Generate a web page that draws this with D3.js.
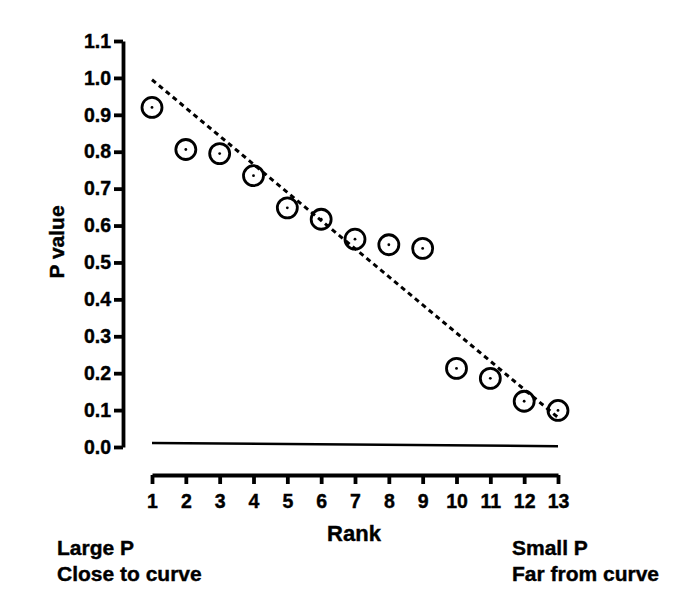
<!DOCTYPE html>
<html>
<head>
<meta charset="utf-8">
<script src="https://cdn.jsdelivr.net/npm/d3@7"></script>
<style>
  body { margin: 0; background: #fff; }
  text { font-family: "Liberation Sans", Arial, sans-serif; font-weight: bold; fill: #000; stroke: #000; stroke-width: 0.4px; }
</style>
</head>
<body>
<div id="chart"></div>
<script>
// ranks and observed P values
const ranks = [1, 2, 3, 4, 5, 6, 7, 8, 9, 10, 11, 12, 13];
const pValues = [0.92, 0.806, 0.795, 0.735, 0.648, 0.617, 0.563, 0.548, 0.538, 0.213, 0.186, 0.124, 0.099];
// dashed reference line and solid baseline (endpoints)
const dashedLine = [[1, 0.995], [13, 0.08]];
const baseLine = [[1, 0.011], [13, 0.002]];
const yTicks = [0, 0.1, 0.2, 0.3, 0.4, 0.5, 0.6, 0.7, 0.8, 0.9, 1.0, 1.1];

const width = 685, height = 610;
const svg = d3.select("#chart").append("svg")
    .attr("width", width)
    .attr("height", height);

const x = d3.scaleLinear().domain([1, 13]).range([152, 558]);
const y = d3.scaleLinear().domain([0, 1.1]).range([447, 41]);

// y axis
const yAxis = svg.append("g")
    .attr("transform", "translate(123,0)")
    .call(d3.axisLeft(y).tickValues(yTicks).tickFormat(d3.format(".1f")).tickSize(9).tickSizeOuter(0).tickPadding(3));
yAxis.select(".domain").attr("stroke-width", 3.8).attr("stroke", "#000");
yAxis.selectAll(".tick line").attr("stroke-width", 3.8).attr("stroke", "#000");
yAxis.selectAll(".tick text").style("font-size", "19.5px").attr("fill", "#000");

// x axis
const xAxis = svg.append("g")
    .attr("transform", "translate(0,475)")
    .call(d3.axisBottom(x).tickValues(ranks).tickFormat(d3.format("d")).tickSize(9).tickSizeOuter(0).tickPadding(10));
xAxis.select(".domain").attr("stroke-width", 3.8).attr("stroke", "#000");
xAxis.selectAll(".tick line").attr("stroke-width", 3.8).attr("stroke", "#000");
xAxis.selectAll(".tick text").style("font-size", "19.5px").attr("fill", "#000");

const line = d3.line().x(d => x(d[0])).y(d => y(d[1]));

svg.append("path")
    .attr("d", line(baseLine))
    .attr("fill", "none")
    .attr("stroke", "#000")
    .attr("stroke-width", 2.5);

svg.append("path")
    .attr("d", line(dashedLine))
    .attr("fill", "none")
    .attr("stroke", "#000")
    .attr("stroke-width", 3)
    .attr("stroke-dasharray", "5,4");

const pts = svg.selectAll(".pt")
    .data(ranks.map((r, i) => [r, pValues[i]]))
    .join("g")
    .attr("class", "pt")
    .attr("transform", d => `translate(${x(d[0])},${y(d[1])})`);
pts.append("circle")
    .attr("r", 10)
    .attr("fill", "none")
    .attr("stroke", "#000")
    .attr("stroke-width", 2.8);
pts.append("circle")
    .attr("r", 1.4)
    .attr("fill", "#000");

// labels
svg.append("text")
    .attr("transform", "translate(64,242) rotate(-90)")
    .attr("text-anchor", "middle")
    .style("font-size", "21px")
    .text("P value");

svg.append("text")
    .attr("x", 354).attr("y", 541)
    .attr("text-anchor", "middle")
    .style("font-size", "22px")
    .text("Rank");

const notes = [
  { x: 57, lines: ["Large P", "Close to curve"] },
  { x: 512, lines: ["Small P", "Far from curve"] }
];
notes.forEach(n => {
  n.lines.forEach((t, i) => {
    svg.append("text")
      .attr("x", n.x).attr("y", 555 + i * 26)
      .style("font-size", "21px")
      .text(t);
  });
});
</script>
</body>
</html>
